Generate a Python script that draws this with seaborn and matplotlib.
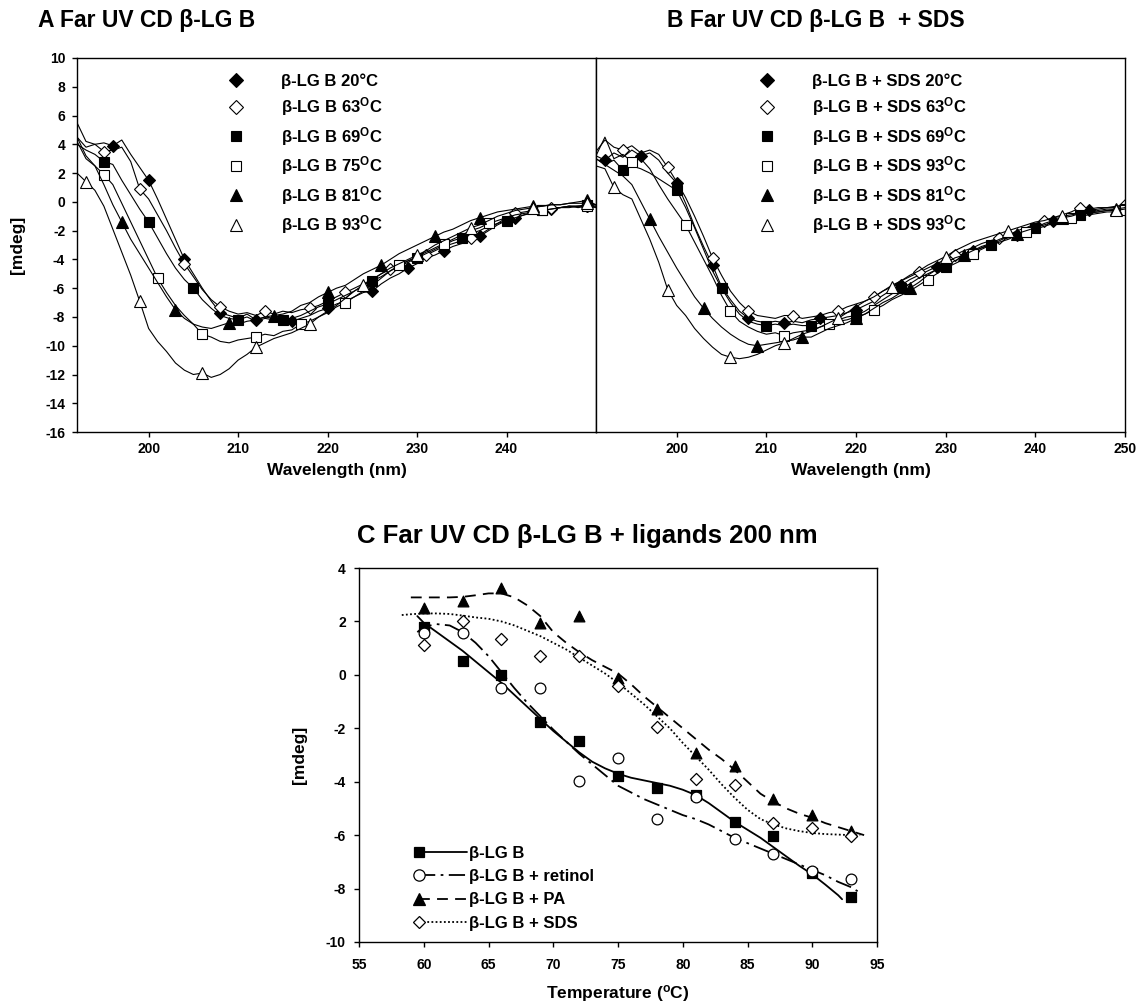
import numpy as np
import matplotlib
matplotlib.use("Agg")
import matplotlib.pyplot as plt
import seaborn as sns
from matplotlib.lines import Line2D
from matplotlib.legend_handler import HandlerLine2DCompound

# ---------------- data: panel A (beta-LG B, far UV CD) ----------------
wl_A = list(range(192, 251))
A_20 = [5.5, 4.2, 4.0, 4.1, 3.9, 4.3, 3.3, 2.4, 1.5, 0.2, -1.2, -2.6, -4.0, -5.0, -6.0, -6.9, -7.7, -7.9, -8.1, -7.8,
        -8.2, -8.0, -8.1, -8.3, -8.3, -8.1, -7.9, -7.6, -7.4, -7.1, -6.9, -6.6, -6.3, -6.2, -5.7, -5.3, -5.0, -4.6, -4.3, -3.9,
        -3.7, -3.4, -3.1, -2.9, -2.7, -2.4, -2.0, -1.6, -1.3, -1.1, -0.9, -0.8, -0.6, -0.5, -0.4, -0.4, -0.3, -0.3, -0.3]
A_63 = [4.5, 3.8, 4.0, 3.5, 3.6, 3.8, 2.8, 0.9, 0.2, -0.9, -2.0, -3.2, -4.3, -5.2, -6.1, -6.8, -7.3, -7.6, -7.8, -7.7,
        -7.9, -7.6, -7.8, -7.6, -7.7, -7.5, -7.4, -7.2, -6.9, -6.6, -6.3, -6.0, -5.7, -5.4, -5.0, -4.7, -4.4, -4.1, -3.9, -3.7,
        -3.4, -3.1, -2.9, -2.7, -2.5, -2.3, -1.9, -1.5, -1.1, -0.8, -0.7, -0.6, -0.5, -0.4, -0.4, -0.3, -0.4, -0.3, -0.4]
A_69 = [4.0, 3.6, 3.3, 2.8, 2.6, 1.5, 0.5, -0.5, -1.4, -2.5, -3.6, -4.6, -5.4, -6.0, -6.8, -7.4, -7.9, -8.1, -8.2, -8.0,
        -8.3, -8.1, -8.2, -8.2, -8.1, -7.9, -7.6, -7.3, -7.1, -6.8, -6.5, -6.2, -5.8, -5.5, -5.2, -4.8, -4.5, -4.2, -3.9, -3.6,
        -3.3, -3.0, -2.7, -2.5, -2.2, -2.0, -1.7, -1.5, -1.3, -1.1, -0.9, -0.7, -0.6, -0.5, -0.4, -0.3, -0.3, -0.2, -0.2]
A_75 = [4.2, 3.0, 2.5, 1.9, 1.2, -0.1, -1.4, -2.7, -4.0, -5.3, -6.3, -7.2, -7.9, -8.5, -9.2, -9.4, -9.7, -9.8, -9.6, -9.5,
        -9.4, -9.2, -9.3, -9.0, -8.9, -8.5, -8.3, -8.0, -7.7, -7.3, -7.0, -6.6, -6.2, -5.8, -5.3, -4.8, -4.4, -4.1, -3.8, -3.5,
        -3.2, -2.9, -2.6, -2.3, -2.0, -1.8, -1.5, -1.3, -1.1, -0.9, -0.8, -0.7, -0.6, -0.5, -0.4, -0.3, -0.3, -0.3, -0.3]
A_81 = [4.5, 3.2, 2.5, 1.2, -0.2, -1.4, -2.6, -3.6, -4.6, -5.6, -6.6, -7.5, -8.1, -8.5, -8.7, -8.8, -8.6, -8.4, -8.5, -8.3,
        -8.2, -8.0, -7.9, -7.8, -7.6, -7.2, -7.0, -6.6, -6.3, -6.0, -5.8, -5.4, -5.0, -4.7, -4.4, -4.0, -3.6, -3.3, -3.0, -2.7,
        -2.4, -2.1, -1.9, -1.6, -1.3, -1.1, -0.9, -0.7, -0.6, -0.5, -0.4, -0.3, -0.3, -0.2, -0.2, -0.1, 0.0, 0.1, -0.2]
A_93 = [2.0, 1.4, 0.8, -0.3, -1.9, -3.5, -5.1, -6.9, -8.8, -9.7, -10.4, -11.2, -11.7, -12.0, -11.9, -12.2, -12.0, -11.6, -11.0, -10.6,
        -10.1, -9.8, -9.5, -9.3, -9.1, -8.8, -8.5, -8.0, -7.6, -7.2, -6.7, -6.2, -5.8, -5.4, -5.0, -4.6, -4.3, -4.0, -3.7, -3.4,
        -3.0, -2.7, -2.4, -2.1, -1.8, -1.6, -1.3, -1.0, -0.8, -0.6, -0.5, -0.4, -0.3, -0.2, -0.2, -0.1, -0.1, -0.1, -0.2]
A_labels = ["β-LG B 20°C", "β-LG B 63$^{\\mathrm{O}}$C", "β-LG B 69$^{\\mathrm{O}}$C",
            "β-LG B 75$^{\\mathrm{O}}$C", "β-LG B 81$^{\\mathrm{O}}$C", "β-LG B 93$^{\\mathrm{O}}$C"]

# ---------------- data: panel B (beta-LG B + SDS) ----------------
wl_B = list(range(191, 251))
B_20 = [3.2, 2.9, 3.4, 3.1, 3.6, 3.2, 3.4, 2.9, 2.0, 1.3, -0.1, -1.7, -3.1, -4.4, -5.9, -6.8, -7.6, -8.1, -8.3, -8.4,
        -8.3, -8.4, -8.3, -8.4, -8.2, -8.1, -8.0, -7.9, -7.7, -7.5, -7.2, -6.9, -6.5, -6.1, -5.8, -5.4, -5.1, -4.8, -4.5, -4.2,
        -3.9, -3.6, -3.4, -3.2, -2.9, -2.7, -2.5, -2.3, -2.0, -1.8, -1.5, -1.3, -1.1, -0.9, -0.7, -0.6, -0.5, -0.4, -0.4, -0.3]
B_63 = [3.5, 4.3, 3.8, 3.6, 3.9, 3.4, 3.6, 3.3, 2.4, 1.4, 0.3, -1.0, -2.4, -3.9, -5.1, -6.2, -7.0, -7.6, -7.9, -8.0,
        -8.1, -7.9, -7.9, -8.1, -8.0, -7.9, -7.7, -7.6, -7.3, -7.1, -6.9, -6.6, -6.2, -5.8, -5.5, -5.2, -4.9, -4.6, -4.3, -4.0,
        -3.7, -3.4, -3.2, -2.9, -2.7, -2.5, -2.3, -2.0, -1.8, -1.5, -1.3, -1.1, -0.9, -0.7, -0.4, -0.5, -0.4, -0.4, -0.3, -0.2]
B_69 = [3.0, 2.6, 2.9, 2.2, 2.5, 2.3, 2.0, 1.6, 1.2, 0.8, -0.4, -1.8, -3.3, -4.8, -6.0, -7.0, -7.8, -8.3, -8.5, -8.6,
        -8.5, -8.6, -8.5, -8.6, -8.6, -8.4, -8.3, -8.2, -8.0, -7.9, -7.6, -7.2, -6.8, -6.4, -6.0, -5.7, -5.3, -5.0, -4.7, -4.5,
        -4.1, -3.8, -3.5, -3.2, -3.0, -2.7, -2.4, -2.2, -2.0, -1.8, -1.6, -1.4, -1.2, -1.0, -0.9, -0.8, -0.7, -0.6, -0.5, -0.5]
B_93s = [3.2, 4.5, 3.0, 3.3, 2.8, 3.0, 2.3, 1.2, 0.2, -0.7, -1.6, -2.8, -4.0, -5.2, -6.5, -7.6, -8.3, -8.7, -9.0, -9.2,
         -9.1, -9.3, -9.1, -9.0, -8.9, -8.7, -8.5, -8.3, -8.2, -8.0, -7.8, -7.5, -7.2, -6.8, -6.5, -6.2, -5.8, -5.4, -5.0, -4.6,
         -4.3, -4.0, -3.6, -3.3, -3.0, -2.8, -2.6, -2.3, -2.1, -1.9, -1.7, -1.5, -1.3, -1.1, -1.0, -0.9, -0.8, -0.7, -0.7, -0.6]
B_81 = [3.0, 2.6, 2.2, 1.8, 1.2, 0.0, -1.2, -2.4, -3.5, -4.6, -5.6, -6.6, -7.4, -8.1, -8.7, -9.2, -9.6, -9.9, -10.0, -9.9,
        -9.8, -9.7, -9.6, -9.4, -9.4, -9.1, -8.8, -8.6, -8.4, -8.1, -7.8, -7.4, -7.0, -6.7, -6.3, -6.0, -5.6, -5.1, -4.7, -4.3,
        -3.9, -3.7, -3.4, -3.1, -2.9, -2.6, -2.4, -2.2, -2.0, -1.8, -1.5, -1.3, -1.1, -1.0, -0.8, -0.7, -0.6, -0.5, -0.5, -0.4]
B_93t = [2.5, 2.3, 1.0, 0.5, 0.2, -1.2, -2.6, -4.2, -6.1, -7.2, -7.9, -8.8, -9.5, -10.1, -10.6, -10.8, -10.9, -10.8, -10.6, -10.3,
         -10.0, -9.8, -9.5, -9.2, -9.0, -8.7, -8.4, -8.1, -7.7, -7.3, -6.9, -6.6, -6.2, -5.9, -5.5, -5.1, -4.8, -4.4, -4.1, -3.8,
         -3.4, -3.1, -2.8, -2.6, -2.4, -2.2, -2.0, -1.8, -1.6, -1.4, -1.3, -1.1, -1.0, -0.9, -0.8, -0.7, -0.7, -0.6, -0.6, -0.5]
B_labels = ["β-LG B + SDS 20°C", "β-LG B + SDS 63$^{\\mathrm{O}}$C", "β-LG B + SDS 69$^{\\mathrm{O}}$C",
            "β-LG B + SDS 93$^{\\mathrm{O}}$C", "β-LG B + SDS 81$^{\\mathrm{O}}$C", "β-LG B + SDS 93$^{\\mathrm{O}}$C"]

# ---------------- data: panel C (200 nm vs temperature) ----------------
temps = [60, 63, 66, 69, 72, 75, 78, 81, 84, 87, 90, 93]
C_lgb = [1.8, 0.53, 0.0, -1.76, -2.48, -3.79, -4.25, -4.5, -5.51, -6.04, -7.41, -8.33]
C_retinol = [1.55, 1.55, -0.48, -0.48, -3.98, -3.1, -5.39, -4.58, -6.14, -6.7, -7.33, -7.64]
C_pa = [2.5, 2.78, 3.25, 1.96, 2.21, -0.1, -1.29, -2.91, -3.41, -4.66, -5.23, -5.83]
C_sds = [1.13, 2.03, 1.34, 0.71, 0.71, -0.41, -1.94, -3.88, -4.13, -5.56, -5.73, -6.04]
# smooth fitted curves
fit_lgb_T = [59.5, 60, 61, 62, 63, 64, 65, 66, 67, 68, 69, 70, 71, 72, 73, 74, 75, 76, 77, 78, 79, 80, 81,
             82, 83, 84, 85, 86, 87, 88, 89, 90, 91, 92, 92.3]
fit_lgb = [2.2, 1.95, 1.6, 1.25, 0.9, 0.5, 0.1, -0.3, -0.75, -1.2, -1.65, -2.1, -2.5, -2.9, -3.25, -3.5, -3.7,
           -3.85, -3.95, -4.05, -4.15, -4.3, -4.5, -4.8, -5.15, -5.5, -5.8, -6.1, -6.45, -6.8, -7.15, -7.47,
           -7.85, -8.25, -8.4]
fit_ret_T = [59.5, 60, 61, 62, 63, 64, 65, 66, 67, 68, 69, 70, 71, 72, 73, 74, 75, 76, 77, 78, 79, 80, 81,
             82, 83, 84, 85, 86, 87, 88, 89, 90, 91, 92, 93, 93.5]
fit_ret = [1.6, 1.8, 1.9, 1.85, 1.6, 1.2, 0.7, 0.1, -0.5, -1.05, -1.55, -2.05, -2.5, -2.95, -3.35, -3.75, -4.15,
           -4.4, -4.65, -4.85, -5.05, -5.25, -5.4, -5.6, -5.85, -6.1, -6.3, -6.5, -6.7, -6.9, -7.1, -7.3, -7.5,
           -7.75, -7.95, -8.1]
fit_pa_T = [59, 60, 61, 62, 63, 64, 65, 66, 67, 68, 69, 70, 71, 72, 73, 74, 75, 76, 77, 78, 79, 80, 81,
            82, 83, 84, 85, 86, 87, 88, 89, 90, 91, 92, 93, 94]
fit_pa = [2.9, 2.9, 2.9, 2.9, 2.92, 2.98, 3.05, 3.05, 2.9, 2.6, 2.2, 1.6, 1.2, 0.85, 0.55, 0.3, 0.05, -0.35,
          -0.8, -1.2, -1.6, -2.0, -2.4, -2.8, -3.15, -3.55, -4.0, -4.45, -4.75, -5.0, -5.2, -5.35, -5.55, -5.7,
          -5.85, -6.0]
fit_sds_T = [58.3, 59, 60, 61, 62, 63, 64, 65, 66, 67, 68, 69, 70, 71, 72, 73, 74, 75, 76, 77, 78, 79, 80,
             81, 82, 83, 84, 85, 86, 87, 88, 89, 90, 91, 92, 93, 93.7]
fit_sds = [2.24, 2.27, 2.3, 2.3, 2.28, 2.22, 2.15, 2.1, 2.0, 1.85, 1.65, 1.45, 1.2, 0.95, 0.65, 0.35, 0.05, -0.3,
           -0.7, -1.1, -1.55, -2.0, -2.55, -3.05, -3.55, -4.1, -4.6, -5.05, -5.4, -5.6, -5.75, -5.85, -5.92,
           -5.96, -5.98, -6.0, -6.0]
C_labels = ["β-LG B", "β-LG B + retinol", "β-LG B + PA", "β-LG B + SDS"]

# ---------------- style ----------------
sns.set_theme(style="ticks")
plt.rcParams.update({
    "font.family": ["Liberation Sans", "DejaVu Sans"],
    "font.weight": "bold",
    "axes.labelweight": "bold",
    "axes.unicode_minus": False,
    "mathtext.fontset": "custom",
    "mathtext.rm": "Liberation Sans:bold",
    "mathtext.bf": "Liberation Sans:bold",
    "mathtext.it": "Liberation Sans:bold",
    "axes.linewidth": 1.0,
    "axes.edgecolor": "black",
    "xtick.color": "black",
    "ytick.color": "black",
    "text.color": "black",
    "axes.labelcolor": "black",
})

fig = plt.figure(figsize=(11.38, 10.05), dpi=100)
axA = fig.add_axes([0.0677, 0.5701, 0.4560, 0.3722])
axB = fig.add_axes([0.5237, 0.5701, 0.4649, 0.3722])
axC = fig.add_axes([0.3155, 0.0627, 0.4552, 0.3721])

# marker specs: (marker, filled, size)
specs = [("D", True, 6.5), ("D", False, 6.5), ("s", True, 7), ("s", False, 7), ("^", True, 8), ("^", False, 8)]


def spectrum(ax, x, y, spec, idx):
    m, filled, ms = spec
    sns.lineplot(x=x, y=y, ax=ax, color="black", linewidth=0.8, estimator=None, sort=False,
                 marker=m, markevery=idx, markersize=ms,
                 markerfacecolor="black" if filled else "white",
                 markeredgecolor="black", markeredgewidth=0.8)


A_series = [A_20, A_63, A_69, A_75, A_81, A_93]
A_marks = [[4, 8, 12, 16, 20, 24, 28, 33, 37, 41, 45, 49, 53, 57],
           [3, 7, 12, 16, 21, 26, 30, 35, 39, 44, 49, 53, 57],
           [3, 8, 13, 18, 23, 28, 33, 38, 43, 48, 52, 57],
           [3, 9, 14, 20, 25, 30, 36, 41, 46, 52, 57],
           [5, 11, 17, 22, 28, 34, 40, 45, 51, 57],
           [1, 7, 14, 20, 26, 32, 38, 44, 51, 57]]
for y, spec, idx in zip(A_series, specs, A_marks):
    spectrum(axA, wl_A, y, spec, idx)

B_series = [B_20, B_63, B_69, B_93s, B_81, B_93t]
B_marks = [[1, 5, 9, 13, 17, 21, 25, 29, 34, 38, 42, 47, 51, 55, 59],
           [3, 8, 13, 17, 22, 27, 31, 36, 40, 45, 50, 54, 59],
           [3, 9, 14, 19, 24, 29, 34, 39, 44, 49, 54, 59],
           [4, 10, 15, 21, 26, 31, 37, 42, 48, 53, 59],
           [6, 12, 18, 23, 29, 35, 41, 47, 52, 58],
           [2, 8, 15, 21, 27, 33, 39, 46, 52, 58]]
for y, spec, idx in zip(B_series, specs, B_marks):
    spectrum(axB, wl_B, y, spec, idx)


def legend_handles():
    return [Line2D([], [], ls="none", marker=m, markersize=ms * 1.1, color="black",
                   markerfacecolor="black" if f else "white", markeredgecolor="black",
                   markeredgewidth=0.8) for m, f, ms in specs]


axA.legend(legend_handles(), A_labels, loc="upper left", bbox_to_anchor=(0.282, 0.96), frameon=False,
           fontsize=12, handlelength=1.5, handletextpad=1.95, labelspacing=0.4, borderpad=0, borderaxespad=0)
axB.legend(legend_handles(), B_labels, loc="upper left", bbox_to_anchor=(0.2996, 0.96), frameon=False,
           fontsize=12, handlelength=1.5, handletextpad=1.95, labelspacing=0.4, borderpad=0, borderaxespad=0)

for ax in (axA, axB):
    ax.set_ylim(-16, 10)
    ax.set_xlabel("Wavelength (nm)", fontsize=12.5)
    ax.xaxis.set_label_coords(0.5, -0.082)
    ax.tick_params(direction="out", length=3.5, width=1, labelsize=10)
    ax.tick_params(axis="x", pad=4)
    ax.tick_params(axis="y", pad=5)
    for s in ax.spines.values():
        s.set_visible(True)
        s.set_color("black")

axA.set_xlim(192, 250)
axA.set_xticks([200, 210, 220, 230, 240])
axA.set_yticks(list(range(-16, 11, 2)))
axA.set_ylabel("[mdeg]", fontsize=12.5)
axA.yaxis.set_label_coords(-0.100, 0.5)

axB.set_xlim(191, 250)
axB.set_xticks([200, 210, 220, 230, 240, 250])
axB.set_yticks([])
axB.set_ylabel("")

# ---------------- panel C ----------------
line_styles = ["-", (0, (9, 3, 1.5, 3)), (0, (6, 4)), (0, (1, 1.3))]
fits = [(fit_lgb_T, fit_lgb), (fit_ret_T, fit_ret), (fit_pa_T, fit_pa), (fit_sds_T, fit_sds)]
for (ft, fv), ls in zip(fits, line_styles):
    sns.lineplot(x=ft, y=fv, ax=axC, color="black", linewidth=1.3, linestyle=ls, estimator=None, sort=False)

C_specs = [("s", True, 55), ("o", False, 60), ("^", True, 60), ("D", False, 38)]
for vals, (m, f, s) in zip([C_lgb, C_retinol, C_pa, C_sds], C_specs):
    sns.scatterplot(x=temps, y=vals, ax=axC, marker=m, s=s, color="black" if f else "white",
                    edgecolor="black", linewidth=0.9, zorder=3)


class LeftMarkerHandler(HandlerLine2DCompound):
    def get_xdata(self, legend, xdescent, ydescent, width, height, fontsize):
        xdata = np.array([-xdescent, -xdescent + width], float)
        return xdata, np.array([-xdescent], float)


C_handles = []
for ls, (m, f, s) in zip(line_styles, C_specs):
    C_handles.append(Line2D([], [], color="black", linewidth=1.3, linestyle=ls, marker=m,
                            markersize=np.sqrt(s) * 1.05, markerfacecolor="black" if f else "white",
                            markeredgecolor="black", markeredgewidth=0.9))
axC.legend(C_handles, C_labels, handler_map={Line2D: LeftMarkerHandler()}, loc="lower left",
           bbox_to_anchor=(0.116, 0.03), frameon=False, fontsize=12, handlelength=2.9,
           handletextpad=0.1, labelspacing=0.5, borderpad=0, borderaxespad=0)

axC.set_xlim(55, 95)
axC.set_ylim(-10, 4)
axC.set_xticks(list(range(55, 96, 5)))
axC.set_yticks(list(range(-10, 5, 2)))
axC.tick_params(direction="out", length=3.5, width=1, labelsize=10)
axC.tick_params(axis="x", pad=8)
axC.tick_params(axis="y", pad=6)
axC.set_xlabel("Temperature ($^{\\mathrm{o}}$C)", fontsize=12.5)
axC.xaxis.set_label_coords(0.5, -0.11)
axC.set_ylabel("[mdeg]", fontsize=12.5)
axC.yaxis.set_label_coords(-0.10, 0.5)
for s in axC.spines.values():
    s.set_visible(True)
    s.set_color("black")

# ---------------- titles ----------------
fig.text(38 / 1138, 1 - 20 / 1005, "A Far UV CD β-LG B", fontsize=16.5, fontweight="bold", va="center", ha="left")
fig.text(667 / 1138, 1 - 20 / 1005, "B Far UV CD β-LG B  + SDS", fontsize=16.5, fontweight="bold", va="center", ha="left")
fig.text(587 / 1138, 1 - 536 / 1005, "C Far UV CD β-LG B + ligands 200 nm", fontsize=18.5, fontweight="bold",
         va="center", ha="center")

fig.savefig("out.png", dpi=100)
